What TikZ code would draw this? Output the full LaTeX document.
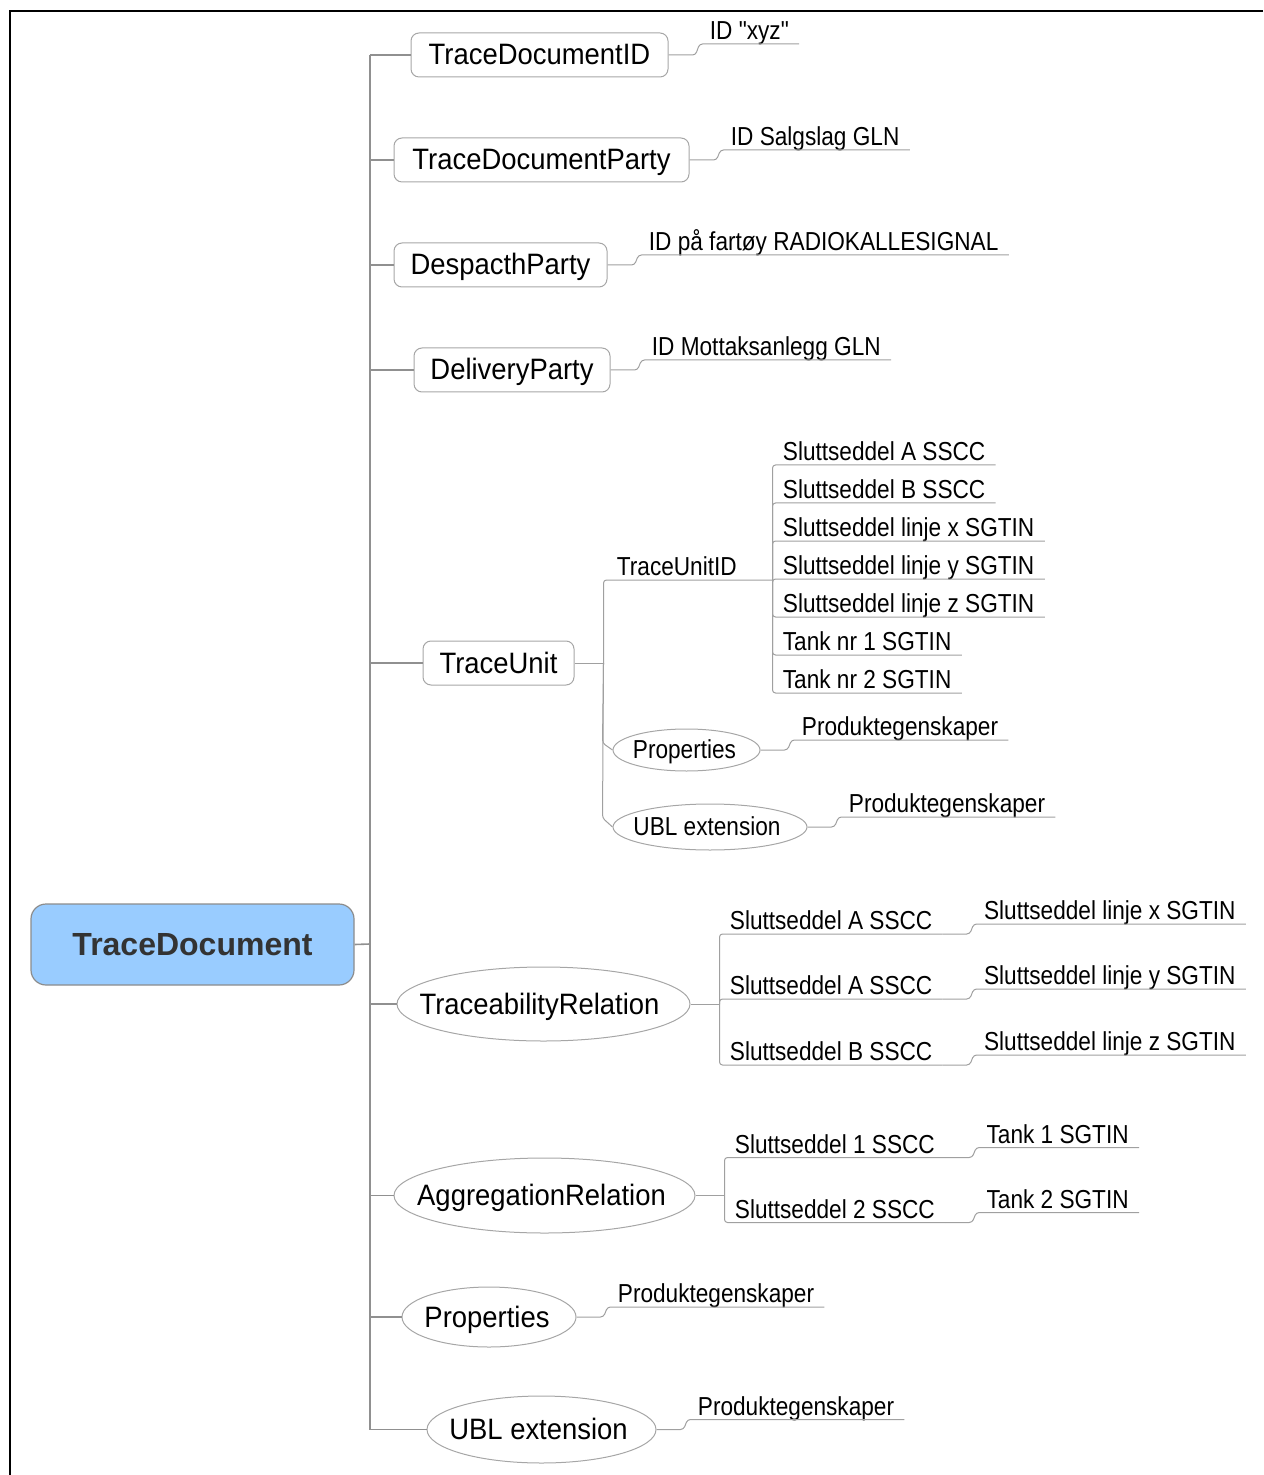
\documentclass[tikz,border=0pt]{standalone}
\usepackage{fontspec}
\setmainfont{Liberation Sans}
\newfontfamily\bigfont[FakeStretch=0.93,Ligatures=TeXOff]{Liberation Sans}
\newfontfamily\smfont[FakeStretch=0.87,Ligatures=TeXOff]{Liberation Sans}
\usetikzlibrary{shapes.geometric,calc}
\definecolor{lncol}{HTML}{A0A0A0}
\definecolor{spcol}{HTML}{909090}
\definecolor{rootfill}{HTML}{99CCFF}
\definecolor{roottext}{HTML}{333333}
\definecolor{bdcol}{HTML}{A6A6A6}
\begin{document}
\begin{tikzpicture}[x=0.5pt,y=-0.5pt,
  bigtxt/.style={font=\bigfont\fontsize{14.75}{17}\selectfont},
  smtxt/.style={font=\smfont\fontsize{13}{15}\selectfont},
  ctrbig/.style={text height=11.8pt, text depth=1.8pt},
  ctrsm/.style={text height=10.4pt, text depth=1.6pt},
  boxnode/.style={bigtxt, ctrbig, draw=bdcol, line width=0.5pt, rounded corners=4pt, inner sep=0pt, minimum height=22pt},
  ellnode/.style={ellipse, draw=bdcol, line width=0.5pt, inner sep=0pt},
  leafnode/.style={smtxt, anchor=south west, inner xsep=5pt, inner ysep=1pt, text height=9pt, text depth=1pt},
  conn/.style={draw=lncol, line width=0.5pt, rounded corners=1.5pt},
  spine/.style={draw=spcol, line width=0.8pt},
]
\useasboundingbox (0,0) rectangle (1263,1475);
% frame
\draw[line width=1.2pt] (1263,11) -- (10,11) -- (10,1475);

% root
\node[draw=gray!90, fill=rootfill, rounded corners=7.5pt, line width=0.6pt,
      minimum width=161.5pt, minimum height=40.5pt, inner sep=0pt,
      font=\fontsize{16}{19}\selectfont\bfseries, text=roottext] (root) at (192.5,944.5) {TraceDocument\hspace{5pt}};

% first level
\node[boxnode, minimum width=128.5pt] (tdid) at (539.5,55) {TraceDocumentID\hspace{3pt}};
\node[boxnode, minimum width=147.5pt] (tdp) at (541.5,160) {TraceDocumentParty\hspace{3pt}};
\node[boxnode, minimum width=106.5pt] (dsp) at (500.5,265) {DespacthParty\hspace{3pt}};
\node[boxnode, minimum width=98pt] (dlp) at (512,370) {DeliveryParty\hspace{3pt}};
\node[boxnode, minimum width=75.5pt] (tu) at (498.5,663) {TraceUnit\hspace{2pt}};
\node[ellnode, minimum width=146.5pt, minimum height=37pt] (tr) at (543.5,1004) {};
\node[bigtxt, ctrbig] (trt) at ($(tr)+(-4,0)$) {TraceabilityRelation};
\node[ellnode, minimum width=150.5pt, minimum height=37.5pt] (ar) at (544.5,1195.5) {};
\node[bigtxt, ctrbig] (art) at ($(ar)+(-3,0)$) {AggregationRelation};
\node[ellnode, minimum width=87pt, minimum height=30pt] (pr) at (489,1317) {};
\node[bigtxt, ctrbig] (prt) at ($(pr)+(-2,0)$) {Properties};
\node[ellnode, minimum width=114.5pt, minimum height=33.5pt] (ub) at (541.5,1429.5) {};
\node[bigtxt, ctrbig] (ubt) at ($(ub)+(-3,0)$) {UBL extension};

% spine
\coordinate (spx) at (370,944);
\draw[spine] (root.east) -- (spx);
\draw[spine] (spx |- tdid.west) -- (spx |- ub.west);
\foreach \n in {tdid,tdp,dsp,dlp,tu,tr,ar,pr,ub}{
  \draw[spine] (spx |- \n.west) -- (\n.west);
}

% simple leaves of first level
\node[leafnode] (l1) at ($(tdid.east)+(31,-11)$) {ID "xyz"};
\draw[conn] (tdid.east) -- ++(27,0) -- ++(4,-11) -- (l1.south east);
\node[leafnode] (l2) at ($(tdp.east)+(31,-10)$) {ID Salgslag GLN};
\draw[conn] (tdp.east) -- ++(27,0) -- ++(4,-10) -- (l2.south east);
\node[leafnode] (l3) at ($(dsp.east)+(31,-10)$) {ID på fartøy RADIOKALLESIGNAL};
\draw[conn] (dsp.east) -- ++(27,0) -- ++(4,-10) -- (l3.south east);
\node[leafnode] (l4) at ($(dlp.east)+(31,-10)$) {ID Mottaksanlegg GLN};
\draw[conn] (dlp.east) -- ++(27,0) -- ++(4,-10) -- (l4.south east);
\node[leafnode] (l7) at ($(pr.east)+(31,-10)$) {Produktegenskaper};
\draw[conn] (pr.east) -- ++(27,0) -- ++(4,-10) -- (l7.south east);
\node[leafnode] (l8) at ($(ub.east)+(31,-10)$) {Produktegenskaper};
\draw[conn] (ub.east) -- ++(27,0) -- ++(4,-10) -- (l8.south east);

% TraceUnit subtree
\coordinate (tuj) at ($(tu.east)+(29,0)$);
\draw[conn] (tu.east) -- (tuj);
\node[leafnode, inner xsep=6.5pt] (tuid) at ($(tuj)+(0,-83)$) {TraceUnitID};
\coordinate (tuidj) at ($(tuid.south west)+(169,0)$);
\draw[conn] (tuj) -- (tuid.south west) -- (tuidj);
\foreach \n/\yy/\t in {a/465/Sluttseddel A SSCC, b/503/Sluttseddel B SSCC,
    c/541/Sluttseddel linje x SGTIN, d/579/Sluttseddel linje y SGTIN,
    e/617/Sluttseddel linje z SGTIN, f/655/Tank nr 1 SGTIN, g/693/Tank nr 2 SGTIN}{
  \node[leafnode] (tc\n) at (tuidj |- 0,\yy) {\t};
  \draw[conn] (tuidj) -- (tc\n.south west) -- (tc\n.south east);
}
\node[ellnode, minimum width=73.5pt, minimum height=21pt] (tup) at (686.5,750) {};
\node[smtxt, ctrsm] (tupt) at ($(tup)+(-2,0)$) {Properties};
\node[ellnode, minimum width=97pt, minimum height=23pt] (tuu) at (710,827) {};
\node[smtxt, ctrsm] (tuut) at ($(tuu)+(-3,0)$) {UBL extension};
\draw[conn] (tuj) -- ($(tup.west)+(-10,-7)$) -- (tup.west);
\draw[conn] (tuj) -- ($(tuu.west)+(-10,-9)$) -- (tuu.west);
\node[leafnode] (l5) at ($(tup.east)+(31,-10)$) {Produktegenskaper};
\draw[conn] (tup.east) -- ++(27,0) -- ++(4,-10) -- (l5.south east);
\node[leafnode] (l6) at ($(tuu.east)+(31,-10)$) {Produktegenskaper};
\draw[conn] (tuu.east) -- ++(27,0) -- ++(4,-10) -- (l6.south east);

% TraceabilityRelation subtree
\coordinate (trj) at ($(tr.east)+(29,0)$);
\draw[conn] (tr.east) -- (trj);
\foreach \n/\dy/\t/\u in {a/-70/Sluttseddel A SSCC/Sluttseddel linje x SGTIN,
    b/-5/Sluttseddel A SSCC/Sluttseddel linje y SGTIN,
    c/61/Sluttseddel B SSCC/Sluttseddel linje z SGTIN}{
  \node[leafnode] (tr\n) at ($(trj)+(0,\dy)$) {\t};
  \draw[conn] (trj) -- (tr\n.south west) -- (tr\n.south east);
  \node[leafnode] (tr\n l) at ($(tr\n.south east)+(31,-10)$) {\u};
  \draw[conn] (tr\n.south east) -- ++(27,0) -- ++(4,-10) -- (tr\n l.south east);
}

% AggregationRelation subtree
\coordinate (arj) at ($(ar.east)+(29,0)$);
\draw[conn] (ar.east) -- (arj);
\foreach \n/\dy/\t/\u in {a/-38/Sluttseddel 1 SSCC/Tank 1 SGTIN,
    b/27/Sluttseddel 2 SSCC/Tank 2 SGTIN}{
  \node[leafnode] (ar\n) at ($(arj)+(0,\dy)$) {\t};
  \draw[conn] (arj) -- (ar\n.south west) -- (ar\n.south east);
  \node[leafnode] (ar\n l) at ($(ar\n.south east)+(31,-10)$) {\u};
  \draw[conn] (ar\n.south east) -- ++(27,0) -- ++(4,-10) -- (ar\n l.south east);
}
\end{tikzpicture}
\end{document}
